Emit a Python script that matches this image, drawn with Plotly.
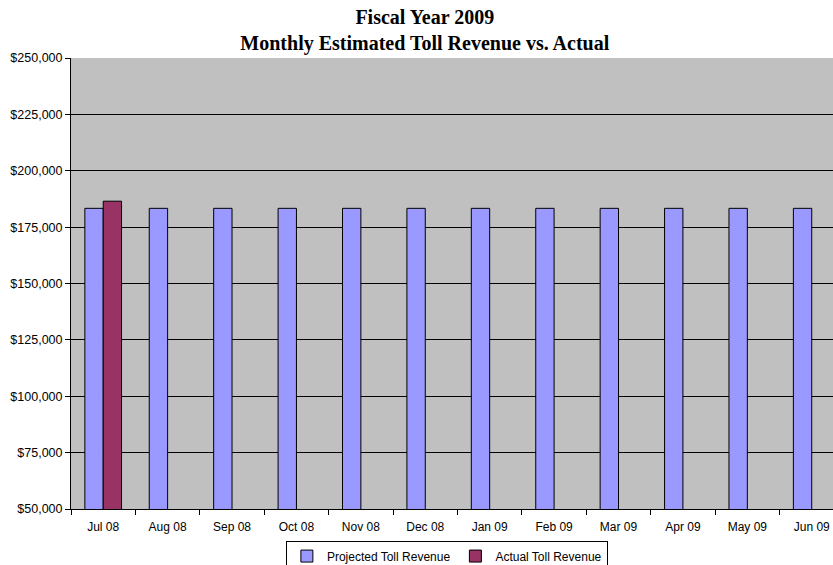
import plotly.graph_objects as go

months = ["Jul 08", "Aug 08", "Sep 08", "Oct 08", "Nov 08", "Dec 08",
          "Jan 09", "Feb 09", "Mar 09", "Apr 09", "May 09", "Jun 09"]
projected = [183333] * 12
actual = [186500, None, None, None, None, None,
          None, None, None, None, None, None]
y_ticks = [50000, 75000, 100000, 125000, 150000, 175000, 200000, 225000, 250000]

fig = go.Figure()
fig.add_trace(go.Bar(x=months, y=projected, name="Projected Toll Revenue",
                     marker=dict(color="#9999FF", line=dict(color="black", width=1))))
fig.add_trace(go.Bar(x=months, y=actual, name="Actual Toll Revenue",
                     marker=dict(color="#993366", line=dict(color="black", width=1))))

fig.update_layout(
    width=833, height=565,
    margin=dict(l=71, r=0, t=58, b=56, autoexpand=False),
    paper_bgcolor="white", plot_bgcolor="#C0C0C0",
    barmode="group", bargap=0.43, bargroupgap=0,
    font=dict(family="Liberation Sans, Arial", size=12, color="black"),
    title=dict(text="<b>Fiscal Year 2009<br>Monthly Estimated Toll Revenue vs. Actual</b>",
               x=0.51, xanchor="center", y=0.957, yanchor="top",
               font=dict(family="Liberation Serif, Times New Roman", size=20, color="black")),
    showlegend=True,
    legend=dict(orientation="h", x=0.282, xanchor="left", y=-0.070, yanchor="top",
                bordercolor="black", borderwidth=1, bgcolor="white",
                font=dict(size=12), traceorder="normal"),
)
fig.update_xaxes(range=[-0.5, 11.33], tickson="boundaries", ticks="outside", ticklen=5,
                 tickcolor="black", showline=True, linecolor="black", linewidth=1,
                 showgrid=False, automargin=False, ticklabelstandoff=7)
fig.update_yaxes(range=[50000, 250000], tickvals=y_ticks,
                 ticktext=["${:,}".format(v) for v in y_ticks],
                 ticks="outside", ticklen=5, tickcolor="black",
                 showline=True, linecolor="black", linewidth=1,
                 showgrid=True, gridcolor="black", gridwidth=1, zeroline=False,
                 automargin=False, tickfont=dict(size=12.5))

# page has a default 8px body margin; drop it so the figure sits at the corner
fig.write_html("out.html", config={"displayModeBar": False},
               post_script="document.body.style.margin='0';document.body.style.overflow='hidden';")
